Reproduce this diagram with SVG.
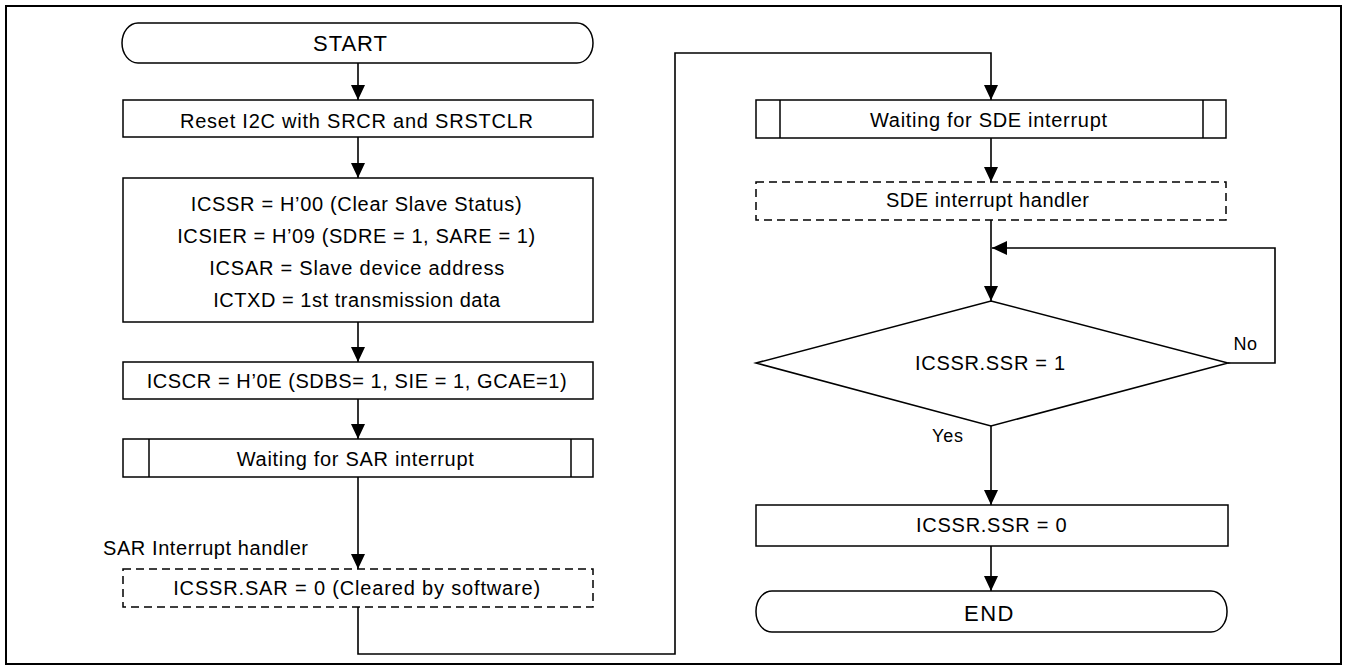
<svg xmlns="http://www.w3.org/2000/svg" width="1346" height="670" viewBox="0 0 1346 670">
<style>
  .frame { fill: #fff; stroke: #000; stroke-width: 2; }
  .box { fill: #fff; stroke: #000; stroke-width: 1.5; }
  .dash { fill: #fff; stroke: #000; stroke-width: 1.5; stroke-dasharray: 8 5; }
  .ln { fill: none; stroke: #000; stroke-width: 1.5; }
  .conn { fill: none; stroke: #000; stroke-width: 1.6; }
  text { font-family: "Liberation Sans", Arial, sans-serif; font-size: 20px; fill: #000; }
  .c { text-anchor: middle; }
  .term { font-size: 22px; }
  .lbl { font-size: 18px; }
</style>
<defs>
  <marker id="ah" viewBox="0 0 15 14" refX="15" refY="7" markerWidth="15" markerHeight="14" markerUnits="userSpaceOnUse" orient="auto">
    <path d="M0,0 L15,7 L0,14 z" fill="#000"/>
  </marker>
</defs>
<rect class="frame" x="6" y="6" width="1335" height="658"/>

<g id="connectors">
  <line class="conn" x1="358" y1="63" x2="358" y2="100" marker-end="url(#ah)"/>
  <line class="conn" x1="358" y1="137" x2="358" y2="178" marker-end="url(#ah)"/>
  <line class="conn" x1="358" y1="322" x2="358" y2="362" marker-end="url(#ah)"/>
  <line class="conn" x1="358" y1="399" x2="358" y2="439" marker-end="url(#ah)"/>
  <line class="conn" x1="358" y1="477" x2="358" y2="569" marker-end="url(#ah)"/>
  <polyline class="conn" points="358,607 358,654 675,654 675,53 991,53 991,100" marker-end="url(#ah)"/>
  <line class="conn" x1="991" y1="138" x2="991" y2="182" marker-end="url(#ah)"/>
  <line class="conn" x1="991" y1="220" x2="991" y2="301" marker-end="url(#ah)"/>
  <polyline class="conn" points="1228,363 1275,363 1275,248 992,248" marker-end="url(#ah)"/>
  <line class="conn" x1="991" y1="426" x2="991" y2="505" marker-end="url(#ah)"/>
  <line class="conn" x1="991" y1="546" x2="991" y2="591" marker-end="url(#ah)"/>
</g>

<g id="start">
  <rect class="box" x="122" y="23" width="471" height="40" rx="16" ry="20"/>
  <text class="c term" x="350" y="51" textLength="74">START</text>
</g>
<g id="reset">
  <rect class="box" x="123" y="100" width="470" height="37"/>
  <text class="c" x="356.5" y="127.5" textLength="353">Reset I2C  with SRCR and SRSTCLR</text>
</g>
<g id="init">
  <rect class="box" x="123" y="178" width="470" height="144"/>
  <text class="c" x="356.2" y="210.5" textLength="331">ICSSR = H’00 (Clear Slave Status)</text>
  <text class="c" x="356.2" y="242.5" textLength="358">ICSIER = H’09 (SDRE = 1, SARE = 1)</text>
  <text class="c" x="356.7" y="275" textLength="295">ICSAR = Slave device address</text>
  <text class="c" x="356.7" y="306.5" textLength="287">ICTXD = 1st transmission data</text>
</g>
<g id="icscr">
  <rect class="box" x="123" y="362" width="470" height="37"/>
  <text class="c" x="356.7" y="388" textLength="420">ICSCR = H’0E (SDBS= 1, SIE = 1, GCAE=1)</text>
</g>
<g id="wait-sar">
  <rect class="box" x="123" y="439" width="470" height="38"/>
  <line class="ln" x1="149" y1="439" x2="149" y2="477"/>
  <line class="ln" x1="571" y1="439" x2="571" y2="477"/>
  <text class="c" x="355.3" y="466" textLength="237">Waiting for SAR interrupt</text>
</g>
<g id="sar-handler">
  <text x="103" y="555" textLength="205">SAR Interrupt handler</text>
  <rect class="dash" x="123" y="569" width="470" height="38"/>
  <text class="c" x="356.7" y="595" textLength="367">ICSSR.SAR = 0 (Cleared by software)</text>
</g>
<g id="wait-sde">
  <rect class="box" x="756" y="100" width="470" height="38"/>
  <line class="ln" x1="780" y1="100" x2="780" y2="138"/>
  <line class="ln" x1="1203" y1="100" x2="1203" y2="138"/>
  <text class="c" x="988.5" y="126.5" textLength="237">Waiting for SDE interrupt</text>
</g>
<g id="sde-handler">
  <rect class="dash" x="756" y="182" width="470" height="38"/>
  <text class="c" x="987.5" y="207" textLength="203">SDE interrupt handler</text>
</g>
<g id="decision">
  <polygon class="box" points="991,301 1228,363 991,426 756,363"/>
  <text class="c" x="990" y="370" textLength="150">ICSSR.SSR = 1</text>
  <text class="lbl" x="1233.5" y="350" textLength="23.5">No</text>
  <text class="lbl" x="932" y="442" textLength="31">Yes</text>
</g>
<g id="clear-ssr">
  <rect class="box" x="756" y="505" width="472" height="41"/>
  <text class="c" x="991.3" y="532" textLength="150.6">ICSSR.SSR = 0</text>
</g>
<g id="end">
  <rect class="box" x="756" y="591" width="471" height="41" rx="16" ry="20"/>
  <text class="c term" x="988.7" y="621" textLength="49.5">END</text>
</g>
</svg>
